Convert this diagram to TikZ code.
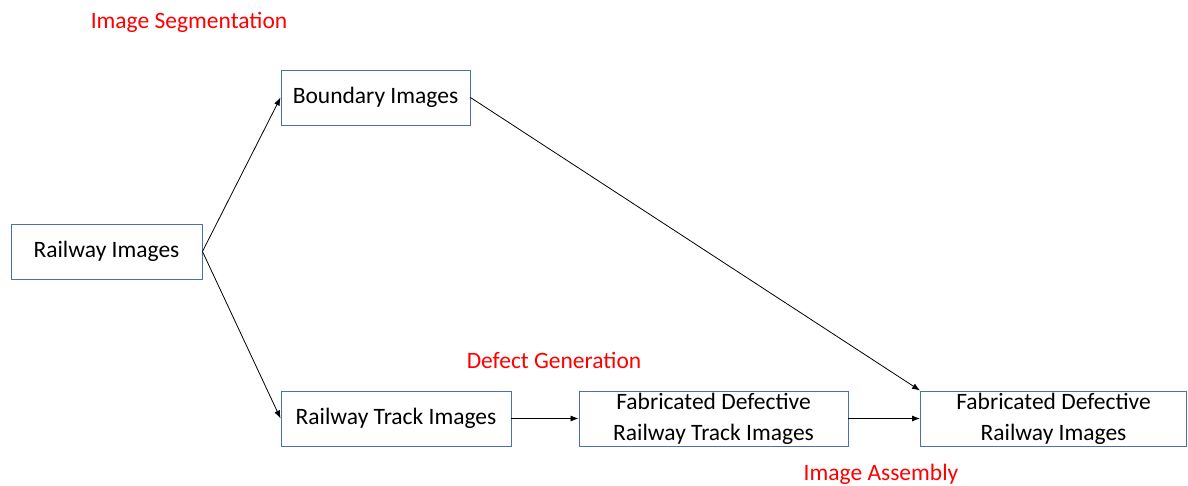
\documentclass[tikz,border=0pt]{standalone}
\usepackage{fontspec}
\setmainfont{Carlito}
\usetikzlibrary{arrows.meta}
\definecolor{boxline}{HTML}{4A6FB5}
\definecolor{labelred}{HTML}{FF0000}
\tikzset{
  stage/.style={draw=boxline, line width=0.9pt, fill=white, inner sep=0pt,
    align=center, font=\fontsize{23.5}{31}\selectfont},
  flow/.style={draw=black, line width=0.8pt, -{Latex[length=8pt,width=6pt]}},
  phase/.style={text=labelred, font=\fontsize{23.5}{28}\selectfont, inner sep=0pt}
}
\begin{document}
\begin{tikzpicture}[x=1pt,y=-1pt]
  \useasboundingbox (0,0) rectangle (1188,485);
  % process boxes
  \node[stage, minimum width=191pt, minimum height=55pt] (rail) at (106.5,251.5) {Railway Images};
  \node[stage, minimum width=189pt, minimum height=55pt] (bound) at (375.5,97.5) {Boundary Images};
  \node[stage, minimum width=230pt, minimum height=55pt] (track) at (396,418.5) {Railway Track Images};
  \node[stage, minimum width=269pt, minimum height=55pt] (fabtrack) at (713.5,418.5) {Fabricated Defective\\Railway Track Images};
  \node[stage, minimum width=266pt, minimum height=55pt] (fabrail) at (1053.5,418.5) {Fabricated Defective\\Railway Images};
  % phase labels
  \node[phase] (seg) at (189,22) {Image Segmentation};
  \node[phase] (gen) at (554,360) {Defect Generation};
  \node[phase] (asm) at (881,474) {Image Assembly};
  % connectors
  \draw[flow] (rail.east) -- (bound.west);
  \draw[flow] (rail.east) -- (track.west);
  \draw[flow] (bound.east) -- (fabrail.north west);
  \draw[flow] (track.east) -- (fabtrack.west);
  \draw[flow] (fabtrack.east) -- (fabrail.west);
\end{tikzpicture}
\end{document}
